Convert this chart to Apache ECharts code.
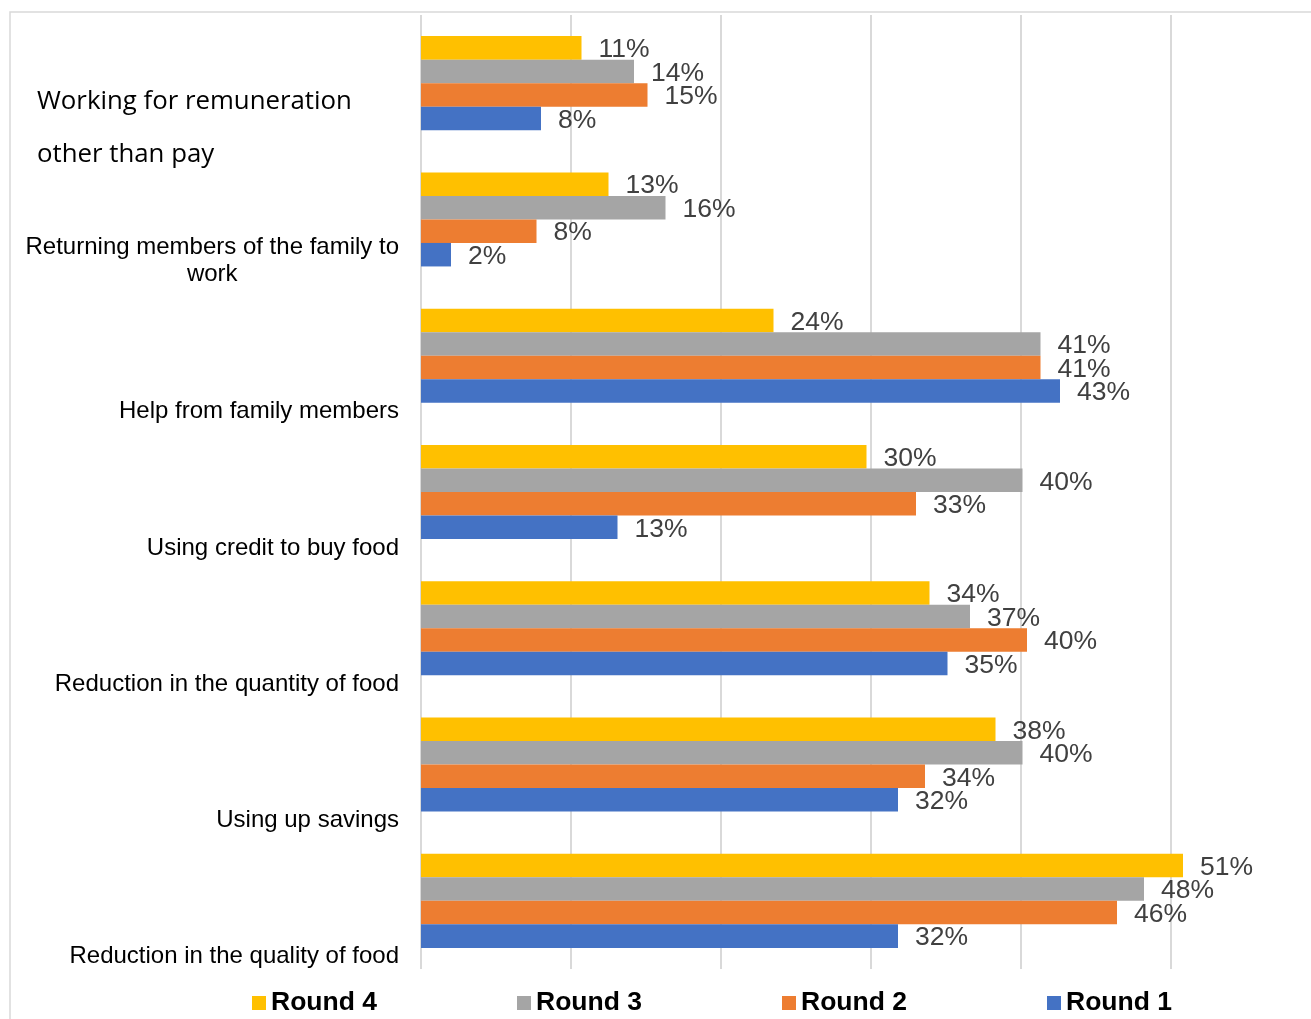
<!DOCTYPE html>
<html>
<head>
<meta charset="utf-8">
<script src="https://cdn.jsdelivr.net/npm/echarts@6/dist/echarts.min.js"></script>
<style>
html,body{margin:0;padding:0;background:#fff;}
#chart{width:1311px;height:1019px;}
</style>
</head>
<body>
<div id="chart"></div>
<script>
// Categories, top to bottom
var categories = [
  'Working for remuneration other than pay',
  'Returning members of the family to work',
  'Help from family members',
  'Using credit to buy food',
  'Reduction in the quantity of food',
  'Using up savings',
  'Reduction in the quality of food'
];
// Series values (percent)
var round4 = [10.7, 12.5, 23.5, 29.7, 33.9, 38.3, 50.8];
var round3 = [14.2, 16.3, 41.3, 40.1, 36.6, 40.1, 48.2];
var round2 = [15.1, 7.7, 41.3, 33.0, 40.4, 33.6, 46.4];
var round1 = [8.0, 2.0, 42.6, 13.1, 35.1, 31.8, 31.8];
var seriesNames = ['Round 4', 'Round 3', 'Round 2', 'Round 1'];
var seriesColors = ['#FFC000', '#A5A5A5', '#ED7D31', '#4472C4'];
var seriesData = [round4, round3, round2, round1];

function catLabel(value, index) {
  if (index === 0) {
    return '{sp0| }\n{w|Working for remuneration}\n{w|other than pay}';
  }
  if (index === 1) {
    return '{sp1| }\n{n2|Returning members of the family to}\n{c2|work}';
  }
  return '{spn| }\n{n|' + value + '}';
}

var chart = echarts.init(document.getElementById('chart'));
var option = {
  backgroundColor: '#ffffff',
  animation: false,
  graphic: [{
    type: 'polyline',
    shape: { points: [[10, 1019], [10, 12], [1311, 12]] },
    style: { stroke: '#D9D9D9', lineWidth: 1.5, fill: null },
    silent: true
  }],
  grid: { left: 421, right: 0, top: 15, bottom: 50 },
  legend: {
    data: seriesNames,
    left: 247,
    top: 984,
    orient: 'horizontal',
    icon: 'rect',
    itemWidth: 14,
    itemHeight: 14,
    itemGap: 140,
    textStyle: {
      fontFamily: 'Liberation Sans, Arial, sans-serif',
      fontSize: 26.5,
      fontWeight: 'bold',
      color: '#000000',
      width: 106,
      lineHeight: 28
    }
  },
  xAxis: {
    type: 'value',
    min: 0,
    max: 59.333,
    interval: 10,
    axisLabel: { show: false },
    axisLine: { show: false },
    axisTick: { show: false },
    splitLine: { show: true, showMaxLine: false, lineStyle: { color: '#D9D9D9', width: 2 } }
  },
  yAxis: {
    type: 'category',
    data: categories,
    inverse: true,
    axisLine: { show: false },
    axisTick: { show: false },
    axisLabel: {
      interval: 0,
      margin: 22,
      formatter: catLabel,
      rich: {
        sp0: { lineHeight: 91, fontSize: 10 },
        sp1: { lineHeight: 82, fontSize: 10 },
        spn: { lineHeight: 112, fontSize: 10 },
        w: {
          fontFamily: 'Open Sans, sans-serif',
          fontSize: 25.8,
          lineHeight: 53,
          color: '#000000',
          width: 362,
          align: 'left'
        },
        n2: {
          fontFamily: 'Liberation Sans, Arial, sans-serif',
          fontSize: 24,
          lineHeight: 27,
          color: '#000000',
          align: 'right'
        },
        c2: {
          fontFamily: 'Liberation Sans, Arial, sans-serif',
          fontSize: 24,
          lineHeight: 27,
          color: '#000000',
          align: 'center'
        },
        n: {
          fontFamily: 'Liberation Sans, Arial, sans-serif',
          fontSize: 24,
          lineHeight: 28,
          color: '#000000'
        }
      }
    }
  },
  series: seriesNames.map(function (name, i) {
    return {
      name: name,
      type: 'bar',
      data: seriesData[i],
      barGap: '0%',
      barCategoryGap: '31%',
      itemStyle: { color: seriesColors[i] },
      label: {
        show: true,
        position: 'right',
        distance: 17,
        offset: [0, 2],
        fontFamily: 'Liberation Sans, Arial, sans-serif',
        fontSize: 26.5,
        color: '#404040',
        formatter: function (p) { return Math.round(p.value) + '%'; }
      }
    };
  })
};
chart.setOption(option);
</script>
</body>
</html>
